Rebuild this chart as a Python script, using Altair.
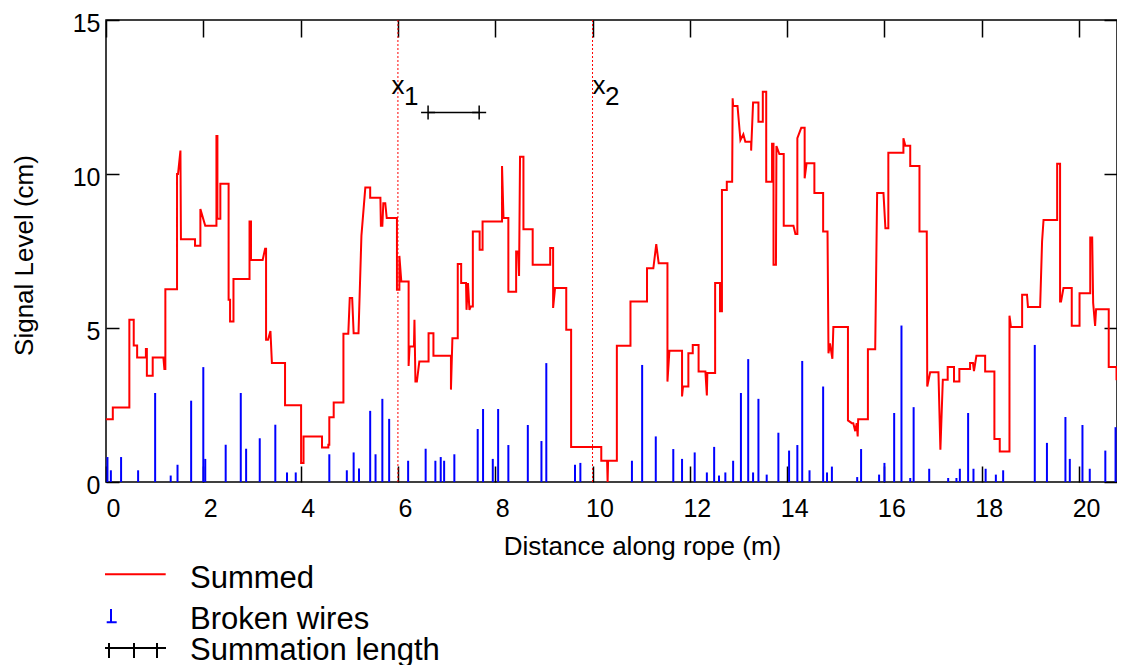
import altair as alt
import pandas as pd

# ---------------- data ----------------
summed_x = [
    0.00, 0.14, 0.14, 0.48, 0.48, 0.57, 0.57, 0.64, 0.64, 0.82,
    0.82, 0.84, 0.84, 0.96, 0.96, 1.18, 1.20, 1.22, 1.22, 1.46,
    1.46, 1.48, 1.53, 1.54, 1.83, 1.83, 1.94, 1.94, 2.04, 2.27,
    2.27, 2.29, 2.29, 2.35, 2.35, 2.52, 2.52, 2.55, 2.55, 2.62,
    2.62, 2.95, 2.95, 2.98, 2.98, 3.22, 3.27, 3.29, 3.29, 3.33,
    3.38, 3.41, 3.68, 3.68, 4.01, 4.01, 4.06, 4.06, 4.44, 4.44,
    4.57, 4.57, 4.59, 4.59, 4.68, 4.68, 4.88, 4.88, 4.98, 5.01,
    5.06, 5.09, 5.19, 5.25, 5.33, 5.43, 5.43, 5.64, 5.65, 5.68,
    5.70, 5.74, 5.77, 5.98, 5.98, 6.03, 6.03, 6.07, 6.22, 6.22,
    6.24, 6.33, 6.34, 6.36, 6.39, 6.44, 6.63, 6.63, 6.73, 6.73,
    7.09, 7.09, 7.12, 7.23, 7.23, 7.30, 7.30, 7.40, 7.41, 7.44,
    7.47, 7.50, 7.54, 7.54, 7.68, 7.68, 7.74, 7.74, 8.14, 8.14,
    8.17, 8.27, 8.27, 8.43, 8.43, 8.47, 8.49, 8.51, 8.58, 8.58,
    8.77, 8.77, 9.13, 9.13, 9.19, 9.19, 9.23, 9.46, 9.46, 9.56,
    9.56, 10.18, 10.18, 10.30, 10.31, 10.32, 10.50, 10.50, 10.78, 10.78,
    11.12, 11.12, 11.25, 11.31, 11.36, 11.54, 11.54, 11.58, 11.84, 11.84,
    11.86, 11.97, 11.97, 12.06, 12.06, 12.18, 12.18, 12.32, 12.35, 12.36,
    12.52, 12.52, 12.62, 12.62, 12.66, 12.66, 12.76, 12.76, 12.87, 12.88,
    12.89, 12.98, 13.04, 13.10, 13.14, 13.26, 13.26, 13.30, 13.41, 13.41,
    13.50, 13.50, 13.57, 13.57, 13.69, 13.69, 13.72, 13.72, 13.77, 13.78,
    13.84, 13.93, 13.93, 14.13, 14.17, 14.21, 14.21, 14.29, 14.36, 14.36,
    14.40, 14.56, 14.56, 14.74, 14.74, 14.83, 14.85, 14.88, 14.93, 14.95,
    15.25, 15.25, 15.33, 15.36, 15.40, 15.43, 15.45, 15.46, 15.66, 15.66,
    15.81, 15.85, 15.98, 16.02, 16.08, 16.08, 16.39, 16.39, 16.43, 16.53,
    16.53, 16.72, 16.72, 16.87, 16.88, 16.94, 17.11, 17.15, 17.20, 17.30,
    17.30, 17.43, 17.43, 17.54, 17.54, 17.76, 17.76, 17.82, 17.84, 17.89,
    18.07, 18.07, 18.26, 18.26, 18.37, 18.37, 18.57, 18.57, 18.60, 18.83,
    18.83, 18.93, 18.95, 19.20, 19.24, 19.27, 19.55, 19.55, 19.61, 19.61,
    19.63, 19.68, 19.85, 19.85, 20.01, 20.01, 20.23, 20.23, 20.27, 20.29,
    20.33, 20.35, 20.61, 20.61, 20.77, 20.77, 20.95,
]
summed_y = [
    2.04, 2.04, 2.42, 2.42, 5.27, 5.27, 4.43, 4.43, 4.04, 4.04,
    4.32, 4.32, 3.45, 3.45, 4.04, 4.04, 3.67, 3.67, 6.26, 6.26,
    10.0, 10.0, 10.76, 7.88, 7.88, 7.67, 7.67, 8.86, 8.32, 8.32,
    11.23, 11.23, 8.55, 8.55, 9.68, 9.68, 5.92, 5.92, 5.21, 5.21,
    6.59, 6.59, 8.46, 8.46, 7.21, 7.21, 7.57, 7.57, 4.62, 4.62,
    4.9, 3.86, 3.86, 2.49, 2.49, 0.62, 0.62, 1.48, 1.48, 1.12,
    1.12, 1.21, 1.21, 2.1, 2.1, 2.58, 2.58, 4.81, 4.81, 5.97,
    5.97, 4.83, 4.83, 8.0, 9.56, 9.56, 9.23, 9.23, 8.32, 8.32,
    9.05, 9.05, 8.57, 8.57, 6.24, 6.24, 7.34, 6.51, 6.51, 3.77,
    4.4, 4.4, 5.27, 3.26, 3.26, 3.91, 3.91, 4.83, 4.83, 4.1,
    4.1, 3.0, 4.67, 4.67, 7.08, 7.08, 6.46, 6.46, 5.59, 6.46,
    5.59, 5.7, 5.7, 8.13, 8.13, 7.54, 7.54, 8.46, 8.46, 10.26,
    8.57, 8.57, 6.18, 6.18, 7.48, 7.48, 6.69, 10.56, 10.56, 8.21,
    8.21, 7.05, 7.05, 7.6, 7.6, 5.65, 6.3, 6.3, 4.94, 4.94,
    1.14, 1.14, 0.69, 0.69, 0.0, 0.69, 0.69, 4.42, 4.42, 5.86,
    5.86, 6.94, 6.94, 7.72, 7.1, 7.1, 3.26, 4.26, 4.26, 2.78,
    3.1, 3.1, 4.18, 4.18, 4.45, 4.45, 3.59, 3.59, 2.81, 3.54,
    3.54, 6.46, 6.46, 5.54, 5.54, 9.48, 9.48, 9.75, 9.75, 12.46,
    12.21, 12.21, 11.1, 11.29, 11.05, 11.05, 10.76, 12.32, 12.32, 11.7,
    11.7, 12.67, 12.67, 9.75, 9.75, 10.98, 10.98, 7.05, 7.05, 10.91,
    10.65, 10.65, 8.32, 8.32, 8.05, 8.05, 11.16, 11.5, 11.5, 9.86,
    10.35, 10.35, 9.38, 9.38, 8.13, 8.13, 4.18, 4.5, 4.0, 5.03,
    5.03, 2.0, 1.91, 1.91, 1.65, 1.91, 1.48, 2.04, 2.04, 4.31,
    4.31, 9.38, 9.38, 8.24, 8.24, 10.69, 10.69, 11.16, 10.92, 10.92,
    10.26, 10.26, 8.13, 8.13, 3.1, 3.56, 3.56, 1.05, 3.32, 3.32,
    3.73, 3.73, 3.26, 3.26, 3.67, 3.67, 3.86, 3.86, 3.6, 4.1,
    4.1, 3.59, 3.59, 1.4, 1.4, 0.99, 0.99, 5.4, 5.03, 5.03,
    6.08, 6.08, 5.68, 5.68, 7.81, 8.51, 8.51, 10.33, 10.33, 5.86,
    5.86, 6.3, 6.3, 5.07, 5.07, 6.13, 6.13, 7.94, 7.94, 5.81,
    5.07, 5.61, 5.61, 3.73, 3.73, 3.34, 3.34,
]

wire_x = [
    0.03, 0.10, 0.31, 0.66, 1.01, 1.33, 1.47, 1.75, 2.00, 2.04,
    2.46, 2.77, 2.88, 3.16, 3.48, 3.72, 3.90, 4.59, 4.95, 5.09,
    5.20, 5.43, 5.54, 5.68, 5.82, 6.21, 6.57, 6.77, 6.88, 6.95,
    7.16, 7.64, 7.75, 7.95, 8.06, 8.27, 8.67, 8.95, 9.05, 9.64,
    9.75, 10.81, 11.02, 11.30, 11.66, 11.84, 12.10, 12.35, 12.50, 12.60,
    12.73, 12.89, 13.05, 13.20, 13.30, 13.41, 13.58, 13.82, 14.04, 14.21,
    14.31, 14.46, 14.74, 14.82, 14.92, 15.44, 15.52, 15.89, 16.00, 16.20,
    16.35, 16.53, 16.60, 16.92, 17.31, 17.48, 17.55, 17.72, 17.83, 18.08,
    18.29, 18.44, 19.09, 19.34, 19.72, 19.81, 20.07, 20.22, 20.54, 20.75,
    20.89,
]
wire_h = [
    0.81, 0.38, 0.81, 0.38, 2.89, 0.21, 0.56, 2.64, 3.73, 0.75,
    1.21, 2.89, 1.08, 1.42, 1.86, 0.31, 0.31, 0.9, 0.38, 0.96,
    0.44, 2.31, 0.9, 2.7, 2.05, 0.69, 1.08, 0.69, 0.81, 0.69,
    0.9, 1.72, 2.37, 0.75, 2.37, 1.2, 1.85, 1.33, 3.86, 0.56,
    0.62, 0.69, 3.8, 1.48, 1.07, 0.75, 0.96, 0.31, 1.14, 0.21,
    0.31, 0.69, 2.89, 3.99, 0.31, 2.7, 0.24, 1.6, 1.02, 1.2,
    3.93, 0.38, 3.1, 0.31, 0.5, 0.16, 1.07, 0.24, 0.62, 2.24,
    5.08, 0.13, 2.43, 0.43, 0.13, 0.13, 0.43, 2.24, 0.43, 0.43,
    0.24, 0.38, 4.45, 1.27, 2.11, 0.75, 1.85, 0.43, 1.02, 1.78,
    0.51,
]

marker_x = [6.0, 10.0]            # x1, x2 positions (m)
marker_label_x = [5.87, 10.0]
marker_label_y = [12.6, 12.6]
marker_main = ["x", "x"]
marker_sub = ["1", "2"]

sum_len_x = [6.62, 7.67]           # summation length bar
sum_len_y = [12.0, 12.0]

x_ticks = [0, 2, 4, 6, 8, 10, 12, 14, 16, 18, 20]
y_ticks = [0, 5, 10, 15]
series_names = ["Summed", "Broken wires", "Summation length"]
series_colors = ["#ff0000", "#0000ff", "#000000"]

# ---------------- chart ----------------
W, H = 1011, 462
FONT = "Liberation Sans"

xs = alt.Scale(domain=[0, 20.78], nice=False, zero=False)
ys = alt.Scale(domain=[0, 15], nice=False, zero=False)

summed_df = pd.DataFrame({"x": summed_x, "y": summed_y,
                          "i": list(range(len(summed_x))),
                          "series": series_names[0]})
wires_df = pd.DataFrame({"x": wire_x, "h": wire_h, "z": [0.0] * len(wire_x)})
marker_df = pd.DataFrame({"x": marker_x})
label_df = pd.DataFrame({"x": marker_label_x, "y": marker_label_y,
                         "m": marker_main, "s": marker_sub})
sum_df = pd.DataFrame({"x": sum_len_x, "y": sum_len_y,
                       "series": series_names[2]})

axis_bottom = alt.Axis(orient="bottom", values=x_ticks, format="d",
                       offset=-16, tickSize=16, domain=False, grid=False,
                       labelPadding=34, labelBaseline="alphabetic",
                       labelOffset=7, labelFontSize=25, labelFlush=False,
                       title="Distance along rope (m)", titleFontSize=26,
                       titleFontWeight="normal", titleX=536, titleY=88,
                       titleBaseline="alphabetic", titleAlign="center")
axis_left = alt.Axis(orient="left", values=y_ticks, format="d",
                     offset=-13, tickSize=13, domain=False, grid=False,
                     labelPadding=6, labelFontSize=25, labelFlush=False,
                     labelOffset=3,
                     title="Signal Level (cm)", titleFontSize=26,
                     titleFontWeight="normal", titleAngle=270,
                     titleX=-95, titleY=235, titleBaseline="middle",
                     titleAlign="center")
axis_top = alt.Axis(orient="top", values=x_ticks, offset=-17, tickSize=17,
                    domain=False, labels=False, grid=False, title=None)
axis_right = alt.Axis(orient="right", values=y_ticks, offset=-13,
                      tickSize=13, domain=False, labels=False, grid=False,
                      title=None)

path_summed = "M-1.65,-0.47H4.42"
path_wire = "M-1.05,-1.1V0.23M-1.48,0.23H-0.48"
path_sumlen = "M-1.65,-0.3H4.45M-1.25,-0.8V0.7M1.25,-0.8V0.7M3.55,-0.8V0.7"

legend_a = alt.Legend(orient="none", legendX=0, legendY=543.5,
                      direction="vertical", title=None, padding=0,
                      symbolType=path_summed, symbolSize=400,
                      symbolStrokeWidth=2, labelFontSize=31,
                      labelOffset=53, labelLimit=600, labelColor="black")
legend_b = alt.Legend(orient="none", legendX=0, legendY=584.5,
                      direction="vertical", title=None, padding=0,
                      symbolSize=400, symbolStrokeWidth=2,
                      symbolOpacity=1, labelFontSize=31, labelOffset=53,
                      labelLimit=600, rowPadding=-4, labelColor="black")

summed_line = alt.Chart(summed_df).mark_line(strokeWidth=2, clip=True).encode(
    x=alt.X("x:Q", scale=xs, axis=axis_bottom),
    y=alt.Y("y:Q", scale=ys, axis=axis_left),
    order="i:Q",
    color=alt.Color("series:N",
                    scale=alt.Scale(domain=[series_names[0]],
                                    range=[series_colors[0]]),
                    legend=legend_a),
)

wires = alt.Chart(wires_df).mark_rule(color=series_colors[1],
                                      strokeWidth=2, clip=True).encode(
    x=alt.X("x:Q", scale=xs, axis=axis_top),
    y=alt.Y("h:Q", scale=ys, axis=axis_right),
    y2="z:Q",
)

markers = alt.Chart(marker_df).mark_rule(color="#ff0000", strokeWidth=1,
                                         strokeDash=[2, 2]).encode(
    x=alt.X("x:Q", scale=xs, axis=None),
)

sum_line = alt.Chart(sum_df).mark_line(color="black", strokeWidth=1.5).encode(
    x=alt.X("x:Q", scale=xs, axis=None),
    y=alt.Y("y:Q", scale=ys, axis=None),
)
sum_pts = alt.Chart(sum_df).mark_point(shape="M-1,0H1M0,-1V1", size=196,
                                       filled=False, color="black",
                                       strokeWidth=1.5, opacity=1).encode(
    x=alt.X("x:Q", scale=xs, axis=None),
    y=alt.Y("y:Q", scale=ys, axis=None),
)

legend_scale_c = alt.Scale(domain=series_names[1:], range=series_colors[1:])
legend_scale_s = alt.Scale(domain=series_names[1:],
                           range=[path_wire, path_sumlen])
legend_pts = alt.Chart(sum_df).mark_point(opacity=0, filled=False).encode(
    x=alt.X("x:Q", scale=xs, axis=None),
    y=alt.Y("y:Q", scale=ys, axis=None),
    color=alt.Color("series:N", scale=legend_scale_c, legend=legend_b),
    shape=alt.Shape("series:N", scale=legend_scale_s, legend=legend_b),
)

label_main = alt.Chart(label_df).mark_text(align="left",
                                           baseline="alphabetic",
                                           fontSize=26, color="black").encode(
    x=alt.X("x:Q", scale=xs, axis=None),
    y=alt.Y("y:Q", scale=ys, axis=None),
    text="m:N",
)
label_sub = alt.Chart(label_df).mark_text(align="left", baseline="alphabetic",
                                          fontSize=26, color="black",
                                          dx=12.5, dy=11).encode(
    x=alt.X("x:Q", scale=xs, axis=None),
    y=alt.Y("y:Q", scale=ys, axis=None),
    text="s:N",
)

chart = alt.layer(
    summed_line, wires, markers, sum_line, sum_pts, legend_pts,
    label_main, label_sub,
).resolve_scale(
    color="independent", shape="independent"
).resolve_axis(
    x="independent", y="independent"
).properties(
    width=W, height=H,
    autosize=alt.AutoSizeParams(type="none"),
    padding={"left": 98, "top": 12, "right": 0, "bottom": 183},
).configure(
    font=FONT, background="white"
).configure_view(
    stroke="black", strokeWidth=1.5
).configure_axis(
    tickColor="black", labelColor="black", titleColor="black",
    tickWidth=1.5, labelFont=FONT, titleFont=FONT
).configure_legend(
    labelFont=FONT
)

chart.save("out.html", embed_options={"renderer": "svg", "actions": False})
